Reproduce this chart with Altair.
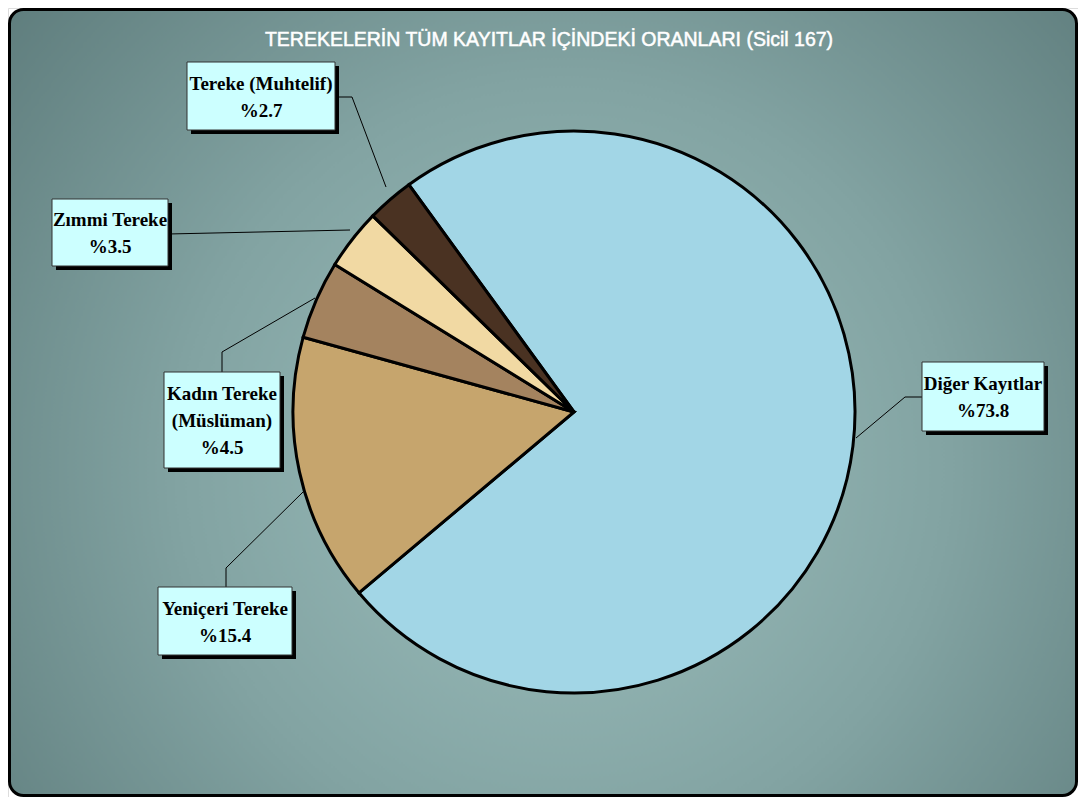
import math
import altair as alt
import pandas as pd

# ---- data ----
CATEGORIES = ["Diğer Kayıtlar", "Yeniçeri Tereke", "Kadın Tereke (Müslüman)",
              "Zımmi Tereke", "Tereke (Muhtelif)"]
VALUES = [73.8, 15.4, 4.5, 3.5, 2.7]
LABEL_NAMES = ["Diğer Kayıtlar", "Yeniçeri Tereke", "Kadın Tereke\n(Müslüman)",
               "Zımmi Tereke", "Tereke (Muhtelif)"]
TITLE = "TEREKELERİN TÜM KAYITLAR İÇİNDEKİ ORANLARI (Sicil 167)"

# ---- styles / layout ----
COLORS = ["#a2d6e6", "#c6a56d", "#a4835f", "#f1d9a3", "#4a3222"]
W, H = 1070, 789
CX, CY, R = 566, 404, 281
START = math.radians(-36)
LH = 27

# label boxes: x1, x2, y1, y2 (pixels)
BOXES = [(914, 1036, 354, 423), (150, 284, 579, 647), (156, 272, 364, 460),
         (44, 160, 191, 258), (179, 327, 54, 122)]
# leader lines: three points each
LEADERS = [[(914, 389), (897, 389), (848, 430)],
           [(218, 579), (218, 560), (295, 484)],
           [(214, 364), (214, 344), (307, 290)],
           [(160, 226), (160, 226), (342, 222)],
           [(327, 89), (344, 89), (378, 179)]]

labels = [f"{n}\n%{v}" for n, v in zip(LABEL_NAMES, VALUES)]
df = pd.DataFrame({
    "category": CATEGORIES,
    "value": VALUES,
    "idx": list(range(len(CATEGORIES))),
    "label": labels,
    "nl": [l.count("\n") for l in labels],
    "bx1": [b[0] for b in BOXES], "bx2": [b[1] for b in BOXES],
    "by1": [b[2] for b in BOXES], "by2": [b[3] for b in BOXES],
})
df["tx"] = (df.bx1 + df.bx2) / 2
df["ty"] = (df.by1 + df.by2) / 2 + 1 - df.nl * LH / 2
df["sx1"] = df.bx1 + 4
df["sx2"] = df.bx2 + 4
df["sy1"] = df.by1 + 4
df["sy2"] = df.by2 + 4

lead_rows = []
for i, pts in enumerate(LEADERS):
    for j, (x, y) in enumerate(pts):
        lead_rows.append({"category": CATEGORIES[i], "ord": j, "x": x, "y": y})
lead = pd.DataFrame(lead_rows)

xs = alt.Scale(domain=[0, W], range=[0, W])
ys = alt.Scale(domain=[0, H], range=[0, H])

panel = alt.Chart(pd.DataFrame({"a": [0]})).mark_rect(
    cornerRadius=14, stroke="#000000", strokeWidth=3,
    fill={"gradient": "radial", "x1": 0.52, "y1": 0.56, "x2": 0.52, "y2": 0.56,
          "r1": 0, "r2": 0.72,
          "stops": [{"offset": 0, "color": "#9dc0be"},
                    {"offset": 0.5, "color": "#82a3a2"},
                    {"offset": 1, "color": "#5a7878"}]},
).encode(x=alt.value(1.5), x2=alt.value(W - 1.5), y=alt.value(1.5), y2=alt.value(H - 1.5))

title = alt.Chart(pd.DataFrame({"t": [TITLE]})).mark_text(
    font="Liberation Sans", fontSize=19.5, color="#ffffff", stroke="#ffffff", strokeWidth=0.5,
    align="center", baseline="middle"
).encode(x=alt.value(541), y=alt.value(32), text="t:N")

pie = alt.Chart(df).mark_arc(radius=R, stroke="#000000", strokeWidth=3, strokeJoin="miter").encode(
    theta=alt.Theta("value:Q", stack=True, scale=alt.Scale(range=[START, START + 2 * math.pi])),
    order=alt.Order("idx:Q"),
    color=alt.Color("category:N", scale=alt.Scale(domain=CATEGORIES, range=COLORS), legend=None),
    x=alt.value(CX), y=alt.value(CY),
)

leaders = alt.Chart(lead).mark_line(color="#000000", strokeWidth=1).encode(
    x=alt.X("x:Q", scale=xs, axis=None),
    y=alt.Y("y:Q", scale=ys, axis=None),
    detail="category:N",
    order="ord:Q",
)

shadow = alt.Chart(df).mark_rect(fill="#000000").encode(
    x=alt.X("sx1:Q", scale=xs, axis=None), x2="sx2:Q",
    y=alt.Y("sy1:Q", scale=ys, axis=None), y2="sy2:Q",
)
boxes = alt.Chart(df).mark_rect(fill="#ccffff", stroke="#333333", strokeWidth=1).encode(
    x=alt.X("bx1:Q", scale=xs, axis=None), x2="bx2:Q",
    y=alt.Y("by1:Q", scale=ys, axis=None), y2="by2:Q",
)
texts = alt.Chart(df).mark_text(
    font="Liberation Serif", fontSize=19, fontWeight="bold", color="#000000",
    lineBreak="\n", lineHeight=LH, align="center", baseline="middle"
).encode(
    x=alt.X("tx:Q", scale=xs, axis=None),
    y=alt.Y("ty:Q", scale=ys, axis=None),
    text="label:N",
)

chart = alt.layer(panel, title, pie, leaders, shadow, boxes, texts).properties(
    width=W, height=H, padding=0, autosize=alt.AutoSizeParams(type="none")
).configure_view(stroke=None).configure(background="#ffffff")

chart.save("out.html", embed_options={"renderer": "svg", "actions": False})
